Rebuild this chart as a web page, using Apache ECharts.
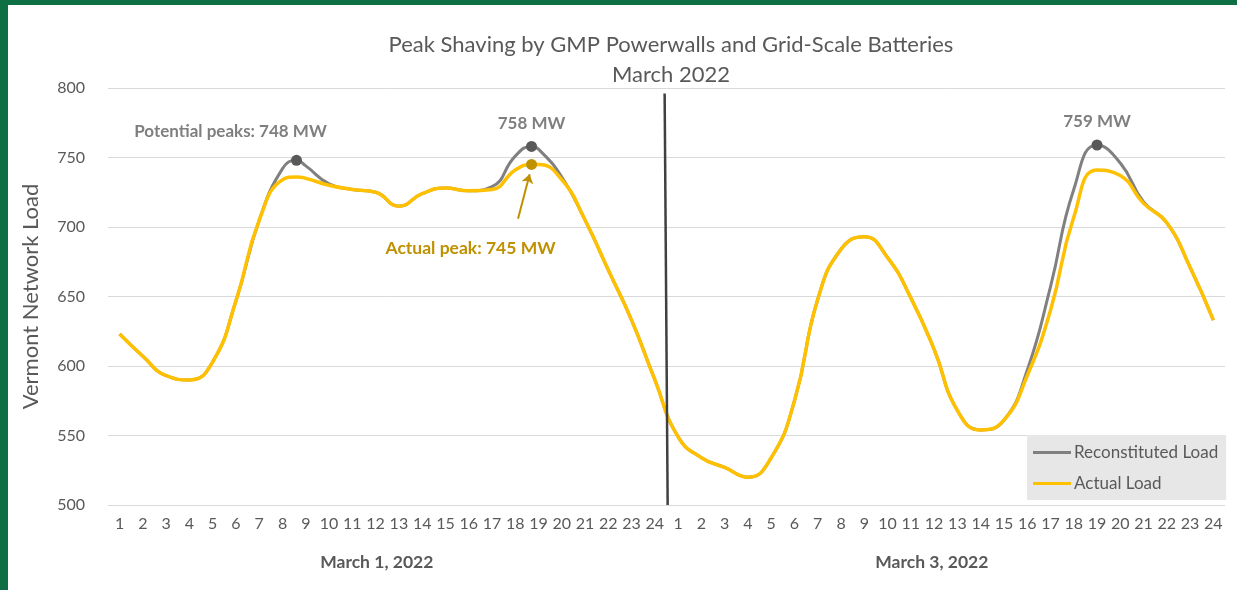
<!DOCTYPE html>
<html>
<head>
<meta charset="utf-8">
<script src="https://cdn.jsdelivr.net/npm/echarts@6/dist/echarts.min.js"></script>
<style>
  html, body { margin: 0; padding: 0; background: #fff; }
  #main { width: 1237px; height: 590px; }
</style>
</head>
<body>
<div id="main"></div>
<script>
// hour labels for the two days shown
var dayHours = ['1','2','3','4','5','6','7','8','9','10','11','12','13','14','15','16','17','18','19','20','21','22','23','24'];
var dayNames = ['March 1, 2022', 'March 3, 2022'];

// positions along the axis (1..24 = March 1, 25..48 = March 3)
var hourPos = [1,2,3,4,5,6,7,8,8.6,9,10,11,12,13,14,15,16,17,18,18.7,19,20,21,22,23,24,
  25,26,27,28,29,30,31,32,33,34,35,36,37,38,39,40,41,42,43,44,45,46,47,48];
var reconstituted = [623,607,593,590,603,647,705,742,748,744,731,727,725,715,724,728,726,729,751,758,756,736,705,669,633,590,
  549,534,527,520,534,575,648,684,693,678,649,612,568,554,561,597,657,727,759,746,718,703,671,633];
var actual = [623,607,593,590,603,647,705,734,736,735,730,727,725,715,724,728,726,727,741,745,745,734,705,669,633,590,
  549,534,527,520,534,575,648,684,693,678,649,612,568,554,561,593,640,707,741,737,717,703,671,633];

// annotated peaks
var peakPos = [8.6, 18.7, 43];
var peakVals = [748, 758, 759];
var peakText = ['Potential peaks: 748 MW', '758 MW', '759 MW'];
var actualPeak = [18.7, 745];
var actualPeakText = 'Actual peak: 745 MW';

var chart = echarts.init(document.getElementById('main'));
var FONT = 'Lato, "Open Sans", sans-serif';
var grey = '#595959';

function pairs(ys) {
  return ys.map(function (v, i) { return [hourPos[i], v]; });
}

var peakMarks = peakPos.map(function (p, i) {
  return {
    coord: [p, peakVals[i]],
    label: {
      formatter: peakText[i],
      offset: i === 0 ? [-66, -10] : [0, -4]
    }
  };
});

var option = {
  backgroundColor: '#fff',
  textStyle: { fontFamily: FONT },
  title: {
    text: 'Peak Shaving by GMP Powerwalls and Grid-Scale Batteries\nMarch 2022',
    left: 666,
    top: 25,
    textAlign: 'center',
    textStyle: { fontSize: 22, fontWeight: 'normal', color: grey, lineHeight: 30, fontFamily: FONT }
  },
  legend: {
    orient: 'vertical',
    left: 1027,
    top: 435,
    width: 201,
    backgroundColor: '#e7e7e7',
    padding: [9, 8, 8, 6],
    itemGap: 14,
    itemWidth: 38,
    itemHeight: 3,
    icon: 'rect',
    textStyle: { fontSize: 17, color: grey, fontFamily: FONT, padding: [0, 0, 0, -2] },
    data: ['Reconstituted Load', 'Actual Load']
  },
  grid: { left: 108, right: 12, top: 88, bottom: 85 },
  xAxis: [{
    type: 'category',
    data: dayHours.concat(dayHours),
    boundaryGap: true,
    axisLine: { show: false },
    axisTick: { show: false },
    axisLabel: { interval: 0, fontSize: 16, color: grey, margin: 11, fontFamily: FONT }
  }, {
    type: 'value',
    min: 0.5,
    max: 48.5,
    show: false
  }],
  yAxis: {
    type: 'value',
    min: 500,
    max: 800,
    interval: 50,
    name: 'Vermont Network Load',
    nameLocation: 'middle',
    nameGap: 66,
    nameTextStyle: { fontSize: 22, color: grey, fontFamily: FONT },
    axisLine: { show: false },
    axisTick: { show: false },
    axisLabel: { fontSize: 16, color: grey, margin: 23, fontFamily: FONT },
    splitLine: { lineStyle: { color: '#d9d9d9', width: 1 } }
  },
  series: [{
    name: 'Reconstituted Load',
    type: 'line',
    xAxisIndex: 1,
    data: pairs(reconstituted),
    smooth: 0.5,
    showSymbol: false,
    lineStyle: { color: '#808080', width: 3 },
    itemStyle: { color: '#808080' },
    z: 2,
    markPoint: {
      symbol: 'circle',
      symbolSize: 11,
      itemStyle: { color: '#595959' },
      label: {
        show: true,
        position: 'top',
        fontSize: 17,
        fontWeight: 'bold',
        color: '#7f7f7f',
        fontFamily: FONT
      },
      data: peakMarks
    },
    markLine: {
      silent: true,
      symbol: 'none',
      label: { show: false },
      lineStyle: { color: '#404040', width: 2.5, type: 'solid' },
      data: [[{ coord: [24.42, 796] }, { coord: [24.55, 500] }]]
    }
  }, {
    name: 'Actual Load',
    type: 'line',
    xAxisIndex: 1,
    data: pairs(actual),
    smooth: 0.5,
    showSymbol: false,
    lineStyle: { color: '#ffc000', width: 3.5 },
    itemStyle: { color: '#ffc000' },
    z: 3,
    markPoint: {
      symbol: 'circle',
      symbolSize: 11,
      itemStyle: { color: '#bf9000' },
      label: {
        show: true,
        formatter: actualPeakText,
        position: 'inside',
        offset: [-61, 84],
        fontSize: 17.5,
        fontWeight: 'bold',
        color: '#bf9000',
        fontFamily: FONT
      },
      data: [{ coord: actualPeak }]
    },
    markLine: {
      silent: true,
      symbol: ['none', 'arrow'],
      symbolSize: 9,
      label: { show: false },
      lineStyle: { color: '#bf9000', width: 2, type: 'solid' },
      data: [[{ coord: [18.12, 706] }, { coord: [18.62, 738] }]]
    }
  }]
};

chart.setOption(option);

// day captions under the hour labels, frame round the picture
var dayCaptions = dayNames.map(function (d, i) {
  var px = chart.convertToPixel({ xAxisIndex: 1 }, 12.05 + i * 23.85);
  return {
    type: 'text',
    x: px,
    y: 562,
    style: {
      text: d,
      x: 0, y: 0,
      align: 'center',
      verticalAlign: 'middle',
      font: 'bold 17.5px ' + FONT,
      fill: grey
    }
  };
});

chart.setOption({
  graphic: dayCaptions.concat([
    { type: 'rect', left: 0, top: 0, shape: { width: 1237, height: 5 }, style: { fill: '#0e6f45' } },
    { type: 'rect', left: 0, top: 0, shape: { width: 8, height: 590 }, style: { fill: '#0e6f45' } }
  ])
});
</script>
</body>
</html>
